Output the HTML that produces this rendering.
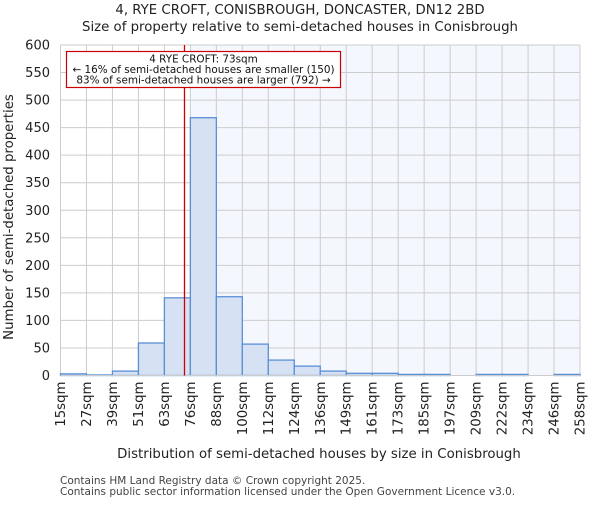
<!DOCTYPE html>
<html><head><meta charset="utf-8"><style>body{margin:0;background:#fff}svg{font-family:"DejaVu Sans","Liberation Sans",sans-serif}</style></head>
<body>
<svg id="c" width="600" height="500" xmlns="http://www.w3.org/2000/svg">
<text x="300" y="14" text-anchor="middle" font-size="13.3" fill="#222">4, RYE CROFT, CONISBROUGH, DONCASTER, DN12 2BD</text>
<text x="300" y="31" text-anchor="middle" font-size="13.3" fill="#222">Size of property relative to semi-detached houses in Conisbrough</text>
<g id="plot"></g>
<text x="319" y="458" text-anchor="middle" font-size="13.3" fill="#222">Distribution of semi-detached houses by size in Conisbrough</text>
<text transform="translate(13,217) rotate(-90)" text-anchor="middle" font-size="13.3" fill="#222">Number of semi-detached properties</text>
<text x="60" y="484" font-size="10.5" fill="#444">Contains HM Land Registry data © Crown copyright 2025.</text>
<text x="60" y="495" font-size="10.5" fill="#444">Contains public sector information licensed under the Open Government Licence v3.0.</text>
</svg>
<script>
const categories=["15sqm","27sqm","39sqm","51sqm","63sqm","76sqm","88sqm","100sqm","112sqm","124sqm","136sqm","149sqm","161sqm","173sqm","185sqm","197sqm","209sqm","222sqm","234sqm","246sqm","258sqm"];
const counts=[3,1,8,59,141,468,143,57,28,17,8,4,4,2,2,0,2,2,0,2];
const yTicks=[0,50,100,150,200,250,300,350,400,450,500,550,600];
const subjectSize=73;
const binStart=15, binWidth=12.15;
const X0=60.5,X1=580,Y0=375.5,Y1=45;
const n=counts.length;
const x=i=>X0+(X1-X0)*i/n;
const xv=v=>x((v-binStart)/binWidth);
const y=v=>Y0-(Y0-Y1)*v/600;
const ns="http://www.w3.org/2000/svg";
const g=document.getElementById('plot');
function mk(t,a,p){const e=document.createElementNS(ns,t);for(const k in a)e.setAttribute(k,a[k]);(p||g).appendChild(e);return e;}
const bx=x(5);
let r=mk('rect',{x:bx,y:Y1,width:X1-bx,height:Y0-Y1,fill:'#f4f7fe'});


yTicks.forEach(t=>{
 let l=mk('line',{x1:X0,x2:X1,y1:y(t),y2:y(t),stroke:'#ccc','stroke-width':1});
 
 
 let tx=mk('text',{x:50,y:y(t)+4.5,'text-anchor':'end','font-size':13,fill:'#222'});
 tx.textContent=t;
 
 
});
categories.forEach((c,i)=>{
 let l=mk('line',{x1:x(i),x2:x(i),y1:Y1,y2:Y0,stroke:'#ccc','stroke-width':1});
 
 
 let tx=mk('text',{transform:`translate(${x(i)+4.5},${Y0+6}) rotate(-90)`,'text-anchor':'end','font-size':13.3,fill:'#222'});
 tx.textContent=c;
 
 
});
counts.forEach((v,i)=>{
 let b=mk('rect',{x:x(i),y:y(v),width:x(i+1)-x(i),height:Y0-y(v),fill:'#d6e2f3',stroke:'#5b8fd6','stroke-width':1.3});
 
 
});
let ax=mk('line',{x1:X0,x2:X1,y1:Y0,y2:Y0,stroke:'#ccc','stroke-width':1});


const sx=xv(subjectSize);
let ml=mk('line',{x1:sx,x2:sx,y1:Y1,y2:Y0,stroke:'#cc0000','stroke-width':1.3});


let box=mk('rect',{x:66.5,y:51.5,width:274,height:36,fill:'#fff',stroke:'#cc0000','stroke-width':1.2});


["4 RYE CROFT: 73sqm","← 16% of semi-detached houses are smaller (150)","83% of semi-detached houses are larger (792) →"].forEach((s,i)=>{
 let t=mk('text',{x:203.5,y:62.5+i*10.5,'text-anchor':'middle','font-size':10.4,fill:'#111'});
 t.textContent=s;
 
 
});
</script>
</body></html>
